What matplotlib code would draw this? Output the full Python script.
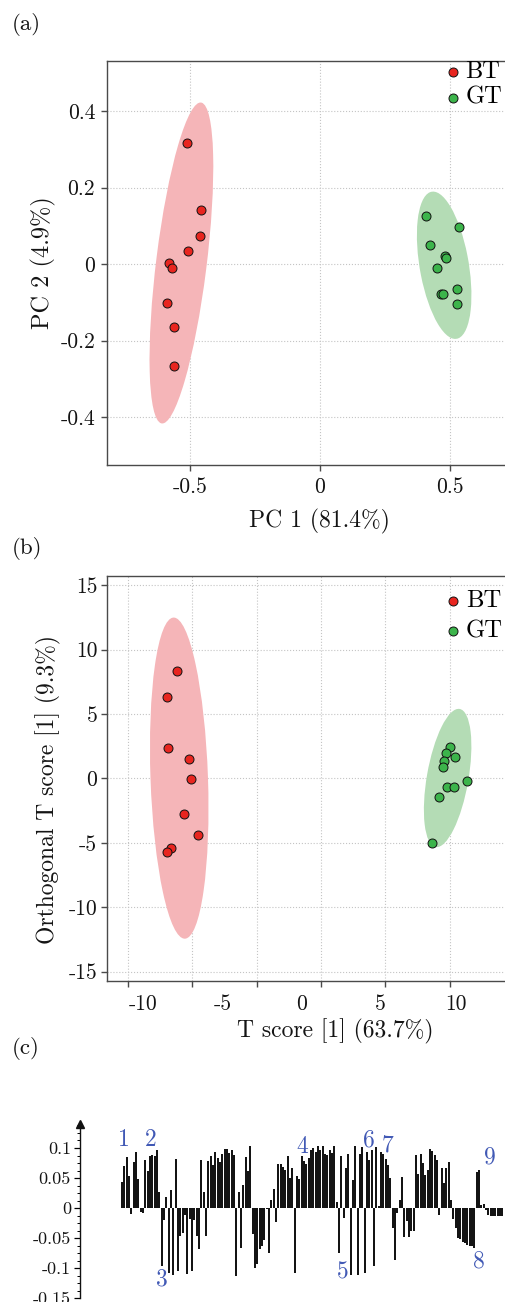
import numpy as np
import matplotlib
matplotlib.use('Agg')
import matplotlib.pyplot as plt
from matplotlib.patches import Ellipse

plt.rcParams['font.family'] = 'cmr10'
plt.rcParams['mathtext.fontset'] = 'cm'
plt.rcParams['axes.unicode_minus'] = False
plt.rcParams['axes.formatter.use_mathtext'] = True

# ---------------- data ----------------
groups = ['BT', 'GT']
point_colors = ['#e8251f', '#3cb44b']
fill_colors = ['#f5b5b8', '#b4dcb5']

# (a) PCA scores
pca_bt_pc1 = [-0.513, -0.458, -0.460, -0.507, -0.580, -0.568, -0.588, -0.560, -0.562]
pca_bt_pc2 = [0.316, 0.142, 0.073, 0.035, 0.002, -0.009, -0.101, -0.164, -0.267]
pca_gt_pc1 = [0.409, 0.535, 0.423, 0.481, 0.485, 0.451, 0.525, 0.465, 0.474, 0.526]
pca_gt_pc2 = [0.125, 0.096, 0.051, 0.021, 0.015, -0.010, -0.065, -0.079, -0.078, -0.105]
pca_xticks = [-0.5, 0, 0.5]
pca_xticklabels = ['-0.5', '0', '0.5']
pca_yticks = [-0.4, -0.2, 0, 0.2, 0.4]
pca_yticklabels = ['-0.4', '-0.2', '0', '0.2', '0.4']

# (b) OPLS-DA scores
opls_bt_t = [-11.14, -11.97, -11.89, -10.21, -10.08, -10.60, -9.51, -11.63, -11.94]
opls_bt_to = [8.36, 6.34, 2.38, 1.53, -0.05, -2.77, -4.39, -5.43, -5.74]
opls_gt_t = [10.00, 9.66, 10.43, 9.53, 9.43, 11.34, 9.79, 10.28, 9.17, 8.60]
opls_gt_to = [2.46, 1.97, 1.68, 1.35, 0.88, -0.21, -0.67, -0.67, -1.45, -4.99]
opls_grid_x = [-15, -10, -5, 0, 5, 10, 15]
opls_xticklabels = ['-10', '-5', '0', '5', '10']
opls_yticks = [-15, -10, -5, 0, 5, 10, 15]
opls_yticklabels = ['-15', '-10', '-5', '0', '5', '10', '15']

# (c) loadings
loadings = [
    0.043, 0.070, 0.085, 0.054, -0.010, 0.077, 0.094, 0.048, -0.007, -0.009,
    0.080, 0.062, 0.087, 0.088, 0.086, 0.096, 0.027, -0.097, -0.020, 0.019,
    -0.108, 0.030, -0.111, 0.081, -0.105, -0.047, -0.042, -0.012, -0.110, -0.019,
    -0.105, -0.020, -0.047, -0.069, 0.080, 0.026, -0.047, 0.079, 0.087, 0.072,
    0.093, 0.084, 0.077, 0.090, 0.099, 0.099, 0.091, 0.097, 0.089, -0.113,
    0.026, -0.066, 0.038, 0.085, 0.062, 0.103,
    -0.043, -0.100, -0.094, -0.069, -0.064, -0.053, -0.001, -0.075, 0.013, 0.031,
    -0.023, 0.073, 0.073, 0.069, 0.063, 0.086, 0.050, 0.066, -0.108, 0.053,
    0.049, 0.086, 0.078, 0.073, 0.084, 0.096, 0.100, 0.093, 0.104, 0.097,
    0.104, 0.090, 0.088, 0.097, 0.092, 0.104, 0.010, -0.075, 0.086, -0.017,
    0.067, 0.090, -0.111, 0.046, 0.104, -0.112, 0.090, 0.102, -0.108, 0.094,
    0.080, 0.096, -0.097, 0.102, 0.003, 0.093, 0.090, 0.082, 0.071, 0.050,
    -0.034, -0.086, -0.009, 0.014, 0.051, -0.048, -0.021, -0.048, -0.038, -0.038,
    0.089, 0.056, 0.090, 0.075, 0.055, 0.063, 0.098, 0.095, 0.088, 0.080,
    -0.012, 0.067, 0.041, 0.067, 0.077, 0.013, -0.019, -0.034, -0.050, -0.052,
    -0.056, -0.059, -0.061, -0.063, -0.064, -0.066, 0.060, 0.063, 0.005, 0.007,
    -0.003, -0.012, -0.013, -0.013, -0.013, -0.014, -0.014, -0.014,
]
peak_labels = ['1', '2', '3', '4', '5', '6', '7', '8', '9']
peak_x = [0.9, 12.3, 17.0, 77.3, 94.8, 105.9, 113.9, 153.0, 157.7]
peak_y = [0.113, 0.113, -0.119, 0.102, -0.108, 0.112, 0.104, -0.089, 0.084]
load_yticks = [-0.15, -0.1, -0.05, 0, 0.05, 0.1]
load_yticklabels = ['-0.15', '-0.1', '-0.05', '0', '0.05', '0.1']

# ---------------- figure ----------------
W, H = 505, 1302
fig = plt.figure(figsize=(W / 100, H / 100), dpi=100)


def px_axes(l, t, r, b):
    return fig.add_axes([l / W, 1 - b / H, (r - l) / W, (b - t) / H])


SPINE = '#4a4a4a'
TXT = '#141414'
K95 = np.sqrt(5.991)


def conf_ellipse(ax, x, y, color):
    x = np.asarray(x, float)
    y = np.asarray(y, float)
    cov = np.cov(x, y)
    vals, vecs = np.linalg.eigh(cov)
    angle = np.degrees(np.arctan2(vecs[1, 1], vecs[0, 1]))
    e = Ellipse((x.mean(), y.mean()), 2 * K95 * np.sqrt(vals[1]),
                2 * K95 * np.sqrt(vals[0]), angle=angle,
                facecolor=color, edgecolor='none', zorder=1)
    ax.add_patch(e)


def style_scatter_axes(ax):
    ax.set_axisbelow(True)
    for s in ['top', 'left', 'bottom', 'right']:
        ax.spines[s].set_color(SPINE)
        ax.spines[s].set_linewidth(1.0)
    ax.tick_params(which='both', color=SPINE, labelcolor=TXT, direction='out',
                   top=False, right=False, labelsize=15.5)


# ---- (a) ----
axa = px_axes(107, 61, 533, 465)
style_scatter_axes(axa)
axa.set_xlim(-0.819, 0.819)
axa.set_ylim(-0.525, 0.531)
conf_ellipse(axa, pca_bt_pc1, pca_bt_pc2, fill_colors[0])
conf_ellipse(axa, pca_gt_pc1, pca_gt_pc2, fill_colors[1])
axa.scatter(pca_bt_pc1, pca_bt_pc2, s=42, c=point_colors[0], edgecolors='#111111',
            linewidths=0.7, zorder=3, label=groups[0])
axa.scatter(pca_gt_pc1, pca_gt_pc2, s=42, c=point_colors[1], edgecolors='#111111',
            linewidths=0.7, zorder=3, label=groups[1])
axa.set_xticks(pca_xticks)
axa.set_xticklabels(pca_xticklabels)
axa.set_yticks(pca_yticks)
axa.set_yticklabels(pca_yticklabels)
axa.tick_params(axis='both', length=4, width=1.0)
axa.tick_params(axis='x', pad=5)
axa.tick_params(axis='y', pad=4.5)
axa.grid(True, linestyle=':', color='#c4c4c4', linewidth=0.8)
axa.set_xlabel('PC 1 (81.4%)', fontsize=17, color=TXT, va='center')
axa.xaxis.set_label_coords(0.499, -0.139)
axa.set_ylabel('PC 2 (4.9%)', fontsize=17.5, color=TXT, va='center')
axa.yaxis.set_label_coords(-0.150, 0.5)
axa.legend(loc='upper left', bbox_to_anchor=(446 / W, 1 - 61 / H),
           bbox_transform=fig.transFigure, frameon=False, fontsize=17.6,
           borderpad=0, borderaxespad=0, handlelength=0.6, handletextpad=0.2,
           labelspacing=0.15)

# ---- (b) ----
axb = px_axes(107, 575.7, 535, 980.7)
style_scatter_axes(axb)
axb.set_xlim(-16.6, 16.6)
axb.set_ylim(-15.70, 15.74)
conf_ellipse(axb, opls_bt_t, opls_bt_to, fill_colors[0])
conf_ellipse(axb, opls_gt_t, opls_gt_to, fill_colors[1])
axb.scatter(opls_bt_t, opls_bt_to, s=42, c=point_colors[0], edgecolors='#111111',
            linewidths=0.7, zorder=3, label=groups[0])
axb.scatter(opls_gt_t, opls_gt_to, s=42, c=point_colors[1], edgecolors='#111111',
            linewidths=0.7, zorder=3, label=groups[1])
# grid lines / tick marks at minor positions, labels (shifted as in reference) at major
axb.set_xticks(opls_grid_x, minor=True)
axb.set_xticks([-13.8, -7.65, -1.53, 4.6, 10.45])
axb.set_xticklabels(opls_xticklabels)
axb.tick_params(axis='x', which='major', length=0, pad=10)
axb.tick_params(axis='x', which='minor', length=4, width=1.0)
axb.set_yticks(opls_yticks)
axb.set_yticklabels(opls_yticklabels)
axb.tick_params(axis='y', length=4, width=1.0, pad=3)
axb.grid(True, axis='x', which='minor', linestyle=':', color='#c4c4c4', linewidth=0.8)
axb.grid(True, axis='y', which='major', linestyle=':', color='#c4c4c4', linewidth=0.8)
axb.set_xlabel('T score [1] (63.7%)', fontsize=17, color=TXT, va='center')
axb.xaxis.set_label_coords(0.534, -0.124)
axb.set_ylabel('Orthogonal T score [1] (9.3%)', fontsize=17, color=TXT, va='center')
axb.yaxis.set_label_coords(-0.138, 0.471)
axb.legend(loc='upper left', bbox_to_anchor=(446 / W, 1 - 590 / H),
           bbox_transform=fig.transFigure, frameon=False, fontsize=17.8,
           borderpad=0, borderaxespad=0, handlelength=0.6, handletextpad=0.2,
           labelspacing=0.33)

# ---- (c) ----
axc = px_axes(80, 1124, 520, 1298)
idx = np.arange(len(loadings))
axc.bar(idx, loadings, width=0.86, color='#141414', linewidth=0)
axc.set_xlim(-18.0, 170.6)
axc.set_ylim(-0.15, 0.14)
for s in ['top', 'right', 'bottom']:
    axc.spines[s].set_visible(False)
axc.spines['left'].set_color('#111111')
axc.spines['left'].set_linewidth(1.0)
axc.set_xticks([])
axc.set_yticks(load_yticks)
axc.set_yticklabels(load_yticklabels)
axc.set_yticks(np.arange(-0.1375, 0.14, 0.0125), minor=True)
axc.tick_params(axis='y', which='major', length=4, width=0.9, pad=2.5,
                labelsize=13, labelcolor=TXT)
axc.tick_params(axis='y', which='minor', length=2.2, width=0.7)
axc.plot([0], [1], marker='^', markersize=5.5, color='#111111',
         transform=axc.transAxes, clip_on=False)
for lab, x, y in zip(peak_labels, peak_x, peak_y):
    axc.text(x, y, lab, color='#4159b5', fontsize=17, ha='center', va='center')

# panel labels
fig.text(12 / W, 1 - 25 / H, '(a)', fontsize=16.5, color=TXT, va='center', ha='left')
fig.text(12 / W, 1 - 548 / H, '(b)', fontsize=16.5, color=TXT, va='center', ha='left')
fig.text(12 / W, 1 - 1048 / H, '(c)', fontsize=16.5, color=TXT, va='center', ha='left')

fig.savefig('out.png', dpi=100)
